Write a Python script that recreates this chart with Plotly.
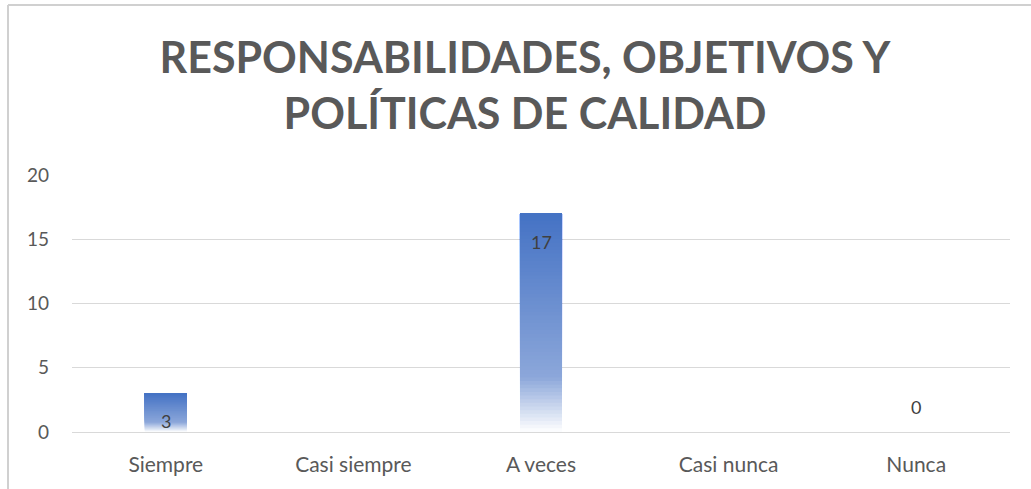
import plotly.graph_objects as go

categories = ["Siempre", "Casi siempre", "A veces", "Casi nunca", "Nunca"]
values = [3, None, 17, None, 0]
y_ticks = [0, 5, 10, 15, 20]
title_text = "RESPONSABILIDADES, OBJETIVOS Y<br>POLÍTICAS DE CALIDAD"

W, H = 1031, 489
ML, MR, MT, MB = 72, 21, 175, 57
PW, PH = W - ML - MR, H - MT - MB

TOP = (0x44, 0x72, 0xC4)
MID = (0x8C, 0xA7, 0xDA)
BOT = (0xFF, 0xFF, 0xFF)


def lerp(a, b, t):
    return tuple(int(round(a[i] + (b[i] - a[i]) * t)) for i in range(3))


def grad(f):  # f: 0 bottom -> 1 top
    if f < 0.25:
        c = lerp(BOT, MID, f / 0.25)
    else:
        c = lerp(MID, TOP, (f - 0.25) / 0.75)
    return "rgb(%d,%d,%d)" % c


N = 60
fig = go.Figure()
for k in range(N):
    # each layer spans from its base up to the bar top; later layers cover the upper part
    bases = [None if v is None else v * k / N for v in values]
    ys = [None if v is None else v - v * k / N for v in values]
    fig.add_trace(go.Bar(
        x=categories, y=ys, base=bases,
        marker=dict(color=grad((k + 0.5) / N), line=dict(width=0)),
        hoverinfo="skip", showlegend=False,
    ))

for c, v in zip(categories, values):
    if v is None:
        continue
    if v > 0:
        fig.add_annotation(x=c, y=v, text=str(v), showarrow=False,
                           yanchor="top", yshift=-15,
                           font=dict(family="Lato", size=18, color="#404040"))
    else:
        fig.add_annotation(x=c, y=v, text=str(v), showarrow=False,
                           yanchor="bottom", yshift=12,
                           font=dict(family="Lato", size=18, color="#404040"))

# chart border (left and top edges visible)
bx0 = (8 - ML) / PW
by1 = (H - 5 - MB) / PH
fig.add_shape(type="line", xref="paper", yref="paper", x0=bx0, x1=bx0,
              y0=(0 - MB) / PH - 0.1, y1=by1, line=dict(color="#d0d0d0", width=2))
fig.add_shape(type="line", xref="paper", yref="paper", x0=bx0, x1=(W - ML) / PW + 0.1,
              y0=by1, y1=by1, line=dict(color="#d0d0d0", width=2))

fig.update_layout(
    width=W, height=H,
    margin=dict(l=ML, r=MR, t=MT, b=MB),
    paper_bgcolor="white", plot_bgcolor="white",
    barmode="overlay", bargap=0.776,
    title=dict(text=title_text, x=525 / W, xanchor="center", xref="container",
               y=(H - 73) / H, yanchor="middle",
               font=dict(family="Lato", size=43, color="#595959", weight="bold")),
    font=dict(family="Lato", color="#595959"),
    xaxis=dict(showgrid=False, showline=False, zeroline=False, ticks="",
               tickfont=dict(size=21, color="#595959"), ticklabelstandoff=18,
               fixedrange=True),
    yaxis=dict(range=[0, 20], tickvals=y_ticks, showgrid=True, gridcolor="#d9d9d9",
               gridwidth=1, zeroline=True, zerolinecolor="#d9d9d9", zerolinewidth=1,
               showline=False, ticks="", tickfont=dict(size=19, color="#595959"),
               ticklabelstandoff=22, fixedrange=True),
)

fig.write_html("out.html")
